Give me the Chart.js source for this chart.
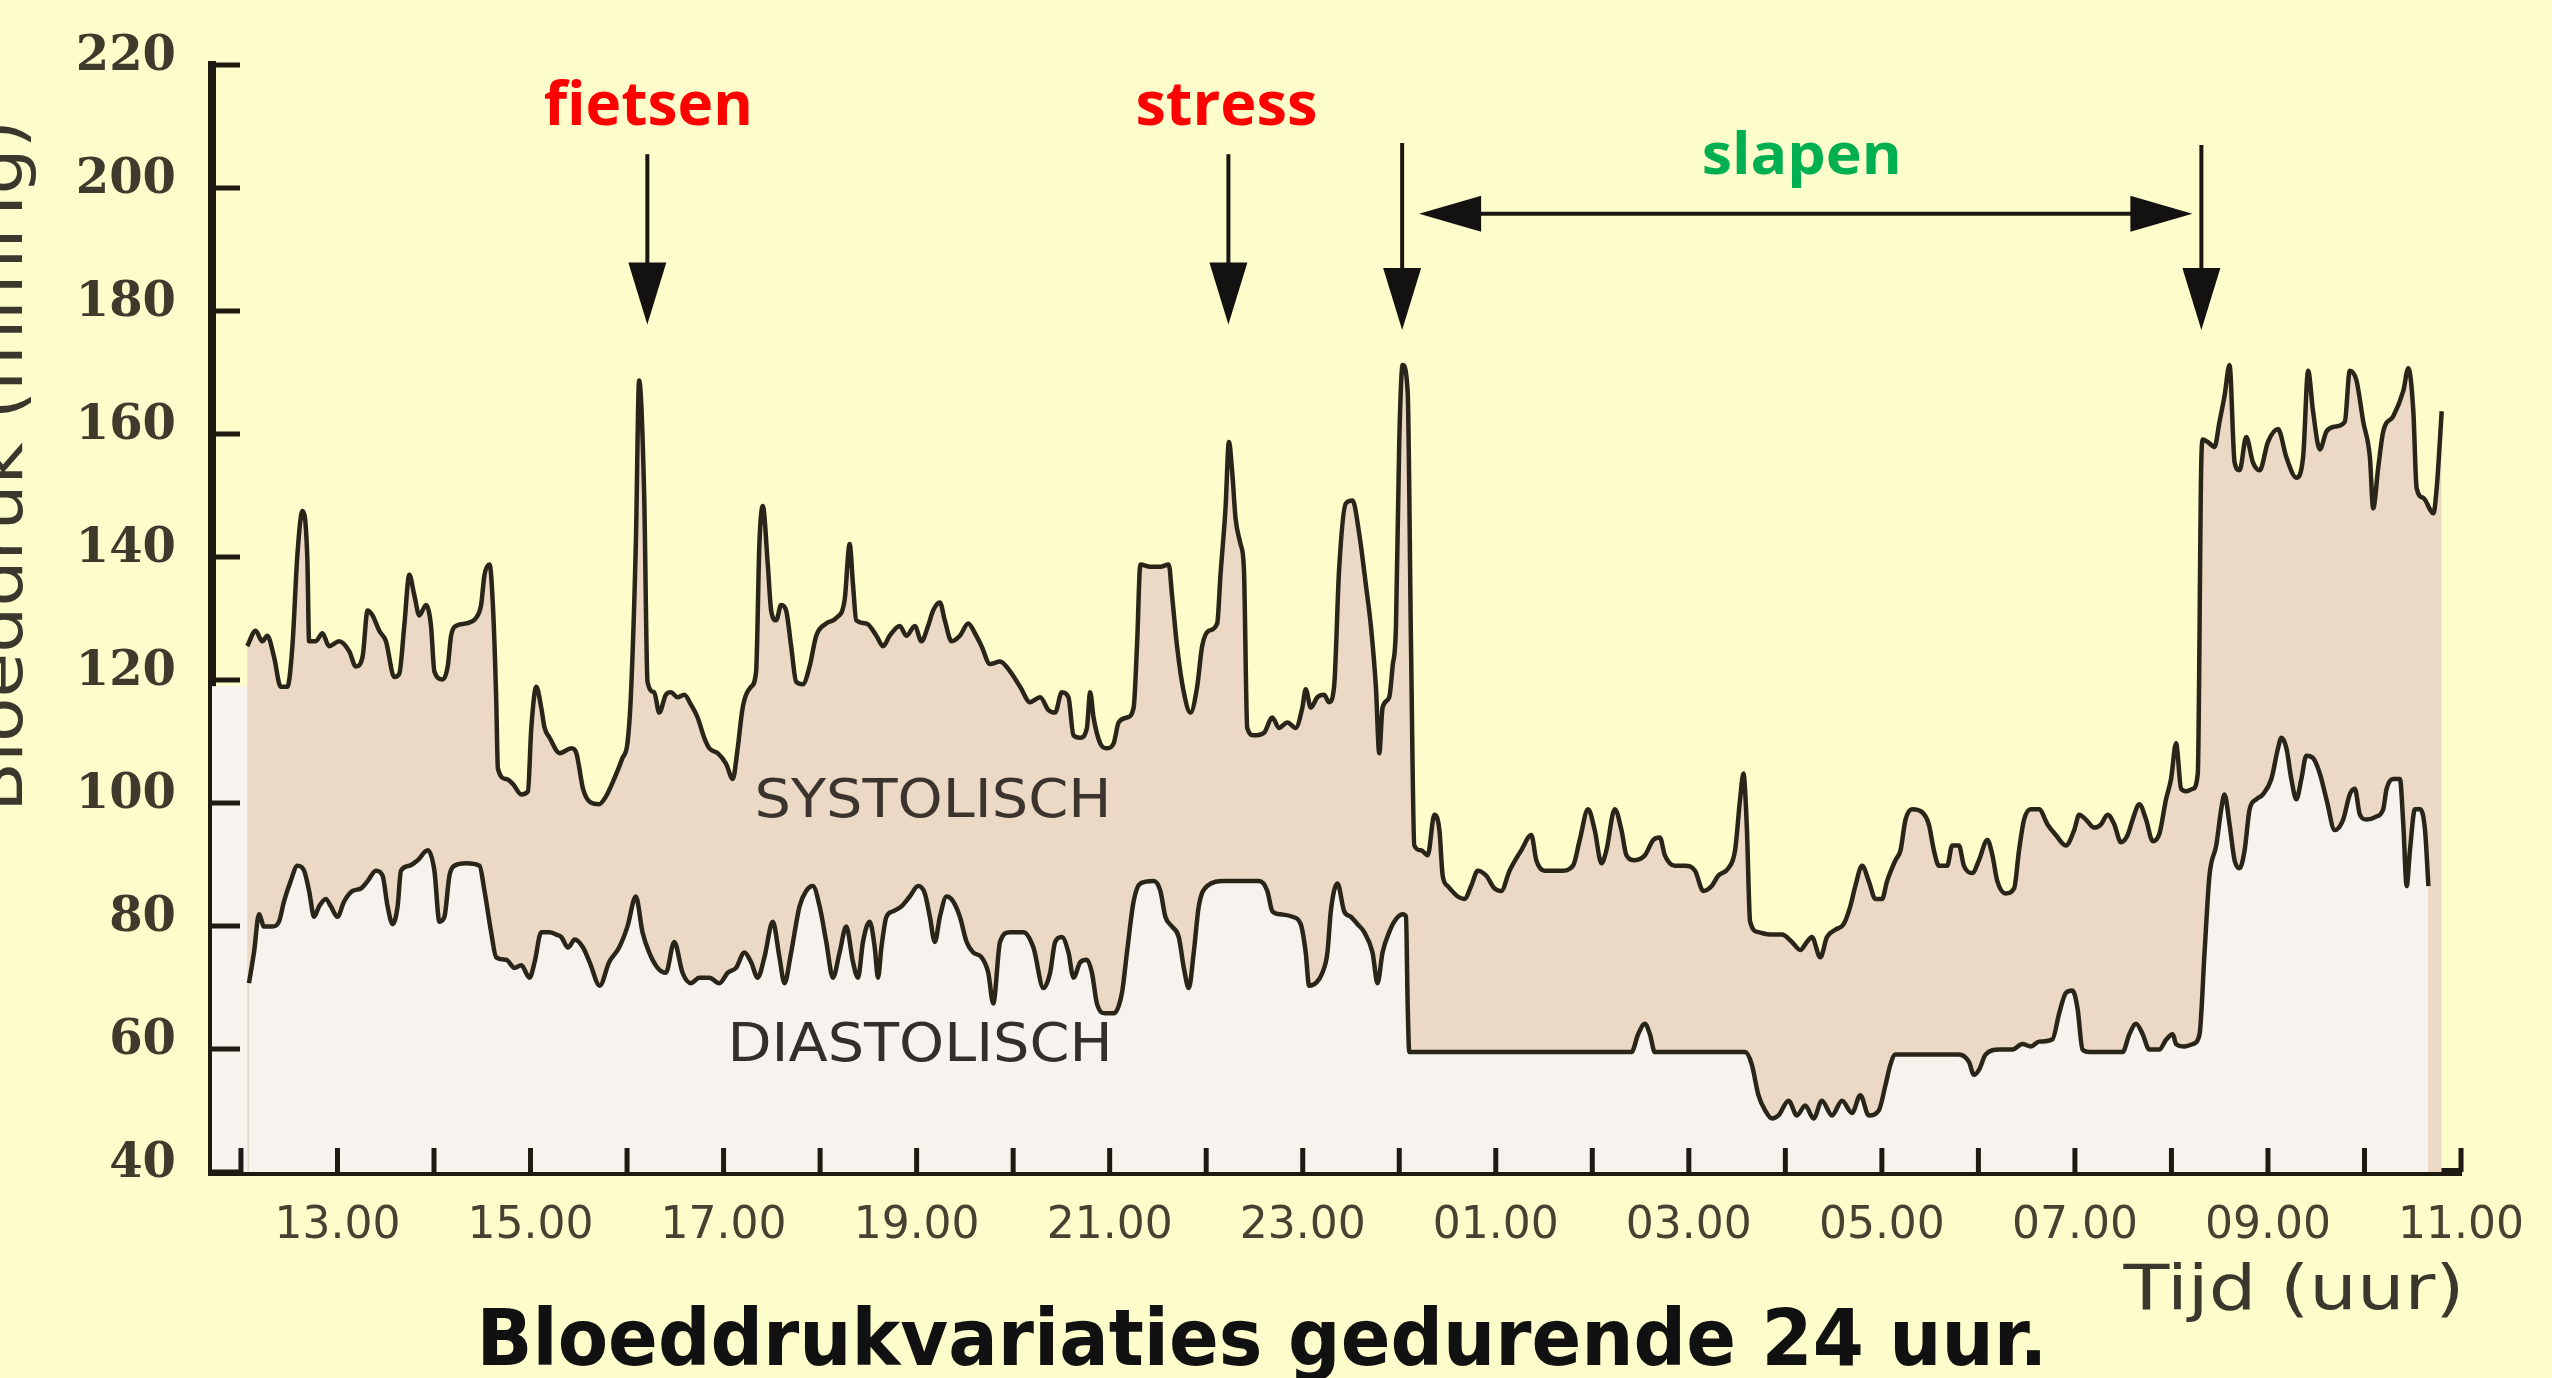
<!DOCTYPE html>
<html>
<head>
<meta charset="utf-8">
<script src="https://cdn.jsdelivr.net/npm/chart.js@4.4.1/dist/chart.umd.min.js"></script>
<style>
  html, body { margin: 0; padding: 0; background: #fdfccb; }
  #wrap { width: 2552px; height: 1378px; }
</style>
</head>
<body>
<div id="wrap"><canvas id="c" width="2552" height="1378"></canvas></div>
<script>
// ---- data (hours: 12 = 12.00, 24 = midnight, 35 = 11.00 next day) ----
const systolicTime = [
12.065,12.152,12.221,12.273,12.342,12.412,12.481,12.533,12.585,12.637,12.688,12.706,12.775,12.844,12.913,13.017,13.121,13.190,13.260,13.312,13.363,13.433,13.502,13.588,13.640,13.692,13.744,13.796,13.848,13.917,13.969,14.004,14.090,14.142,14.177,14.229,14.333,14.436,14.488,14.523,14.575,14.610,14.644,14.662,14.748,14.817,14.904,14.973,15.008,15.060,15.111,15.146,15.198,15.302,15.423,15.475,15.544,15.613,
15.710,15.779,15.866,15.952,16.004,16.039,16.091,16.125,16.177,16.212,16.281,16.333,16.402,16.454,16.523,16.593,16.662,16.731,16.800,16.852,16.939,17.025,17.095,17.146,17.198,17.285,17.337,17.371,17.406,17.458,17.493,17.545,17.596,17.648,17.700,17.752,17.821,17.891,17.960,18.064,18.168,18.254,18.306,18.341,18.375,18.479,18.583,18.652,18.721,18.825,18.894,18.981,19.050,19.119,19.171,19.241,19.292,19.362,19.448,19.535,19.604,19.673,
19.760,19.864,19.968,20.072,20.175,20.279,20.366,20.435,20.504,20.573,20.625,20.695,20.764,20.798,20.833,20.902,20.971,21.041,21.093,21.179,21.248,21.283,21.318,21.421,21.525,21.612,21.646,21.698,21.768,21.837,21.906,21.958,22.027,22.114,22.148,22.200,22.235,22.270,22.304,22.356,22.391,22.425,22.494,22.598,22.685,22.754,22.841,22.927,22.996,23.031,23.083,23.152,23.221,23.273,23.325,23.377,23.446,23.516,23.585,23.654,23.706,23.758,23.793,23.827,23.896,
23.931,23.966,24.000,24.035,24.087,24.122,24.156,24.225,24.295,24.364,24.416,24.450,24.502,24.606,24.675,24.745,24.814,24.900,24.987,25.056,25.143,25.264,25.368,25.420,25.506,25.679,25.800,25.870,25.956,26.025,26.095,26.146,26.233,26.302,26.354,26.441,26.545,26.631,26.700,26.752,26.856,26.960,27.064,27.150,27.237,27.306,27.410,27.479,27.531,27.566,27.600,27.635,27.721,27.843,
27.964,28.068,28.154,28.223,28.275,28.362,28.431,28.518,28.604,28.673,28.725,28.795,28.864,28.933,29.002,29.054,29.141,29.193,29.245,29.314,29.418,29.487,29.539,29.591,29.677,29.729,29.798,29.850,29.937,30.006,30.093,30.145,30.196,30.283,30.370,30.421,30.473,30.543,30.629,30.716,30.802,30.906,30.993,31.044,31.114,31.200,31.269,31.339,31.408,31.477,31.546,31.598,31.667,31.737,31.806,31.875,31.944,31.996,32.048,32.100,32.152,32.221,32.273,
32.308,32.325,32.377,32.446,32.498,32.550,32.602,32.654,32.706,32.775,32.844,32.914,33.000,33.104,33.191,33.294,33.364,33.416,33.467,33.537,33.606,33.692,33.796,33.848,33.917,33.987,34.056,34.090,34.142,34.194,34.298,34.402,34.454,34.506,34.540,34.610,34.714,34.748,34.800
];
const systolicBP = [
125.5,128.0,126.3,127.2,123.8,118.9,118.9,125.5,140.4,147.5,139.6,126.3,126.3,127.6,125.5,126.3,124.7,122.2,123.8,131.3,130.5,128.0,126.3,120.5,121.0,128.8,137.1,133.8,130.5,132.2,128.8,121.4,120.1,122.2,127.2,128.8,129.2,130.1,132.2,137.1,138.8,132.2,117.2,105.6,103.9,103.1,101.4,101.9,112.2,118.9,115.5,112.2,110.6,108.1,108.9,108.1,102.3,100.2,
99.8,101.0,103.9,107.3,109.7,117.2,142.1,168.7,150.4,119.7,118.0,114.7,117.6,118.0,117.2,117.6,116.0,113.9,110.6,108.9,108.1,106.4,103.9,108.9,115.5,118.9,121.4,142.1,148.3,138.8,131.3,129.7,132.2,131.3,125.5,119.7,119.3,122.2,127.2,129.2,130.1,133.0,142.1,135.5,129.7,129.2,127.2,125.5,127.2,128.8,127.2,128.8,126.3,128.8,131.3,132.6,129.7,126.3,127.2,129.2,127.6,125.5,
122.6,123.0,121.4,118.9,116.4,117.2,115.1,114.7,118.0,117.2,111.0,110.6,112.2,118.0,113.9,109.7,108.9,109.7,113.1,113.9,115.5,125.5,138.8,138.4,138.4,138.8,133.8,125.5,118.0,114.7,118.9,125.5,128.0,129.2,137.1,147.9,158.7,153.7,146.3,142.1,138.0,112.2,111.0,111.4,113.9,112.2,113.1,112.2,115.5,118.5,115.5,117.2,117.6,116.4,118.9,138.0,148.7,149.2,143.8,135.5,128.8,118.9,108.1,115.5,117.2,
122.2,128.8,158.7,171.2,167.0,125.5,93.1,92.3,91.5,98.1,95.6,88.2,86.5,84.8,84.4,86.5,89.0,88.2,86.1,85.7,89.0,92.3,94.8,90.7,89.0,89.0,89.8,94.0,99.0,95.6,90.2,92.3,99.0,95.6,91.5,90.7,91.5,94.0,94.4,91.5,89.8,89.8,89.0,85.7,86.5,88.2,89.4,92.3,100.6,104.8,96.5,80.7,79.0,78.6,
78.6,77.4,76.1,77.4,78.2,74.9,78.2,79.4,80.3,83.2,86.5,89.8,87.3,84.4,84.4,87.3,90.7,92.3,97.3,99.0,98.5,96.5,92.3,89.8,89.8,93.1,93.1,89.8,88.6,90.7,94.0,91.5,87.3,85.3,86.1,92.3,97.3,99.0,99.0,96.5,94.8,93.1,95.6,98.1,97.3,96.0,96.5,98.1,96.5,93.6,94.8,97.3,99.8,97.3,93.8,95.0,100.6,103.9,109.7,102.3,101.9,102.3,104.8,
154.5,159.1,158.7,157.9,162.0,166.2,171.2,155.4,154.1,159.5,155.4,154.1,158.7,160.8,156.2,152.9,156.2,170.3,163.7,157.5,160.4,161.2,162.0,170.3,168.7,162.0,156.2,147.9,154.5,160.4,162.9,167.0,170.7,163.7,151.2,149.6,147.1,151.2,163.7
];
const diastolicTime = [
12.083,12.135,12.187,12.239,12.325,12.394,12.446,12.515,12.585,12.654,12.706,12.758,12.810,12.879,12.931,13.000,13.069,13.156,13.242,13.312,13.398,13.467,13.519,13.571,13.623,13.658,13.744,13.831,13.935,14.004,14.056,14.108,14.160,14.212,14.333,14.471,14.523,14.592,14.644,14.748,14.835,14.904,14.990,15.042,15.111,15.198,15.267,15.319,15.388,15.458,15.544,15.613,15.717,
15.814,15.918,16.004,16.091,16.160,16.229,16.316,16.402,16.489,16.575,16.662,16.748,16.852,16.956,17.043,17.129,17.216,17.285,17.354,17.423,17.510,17.579,17.631,17.700,17.787,17.856,17.925,17.995,18.064,18.133,18.202,18.271,18.341,18.393,18.444,18.514,18.566,18.600,18.635,18.687,18.756,18.843,18.929,19.016,19.085,19.137,19.189,19.241,19.310,19.379,19.448,19.518,19.587,19.673,19.742,19.794,
19.864,19.968,20.106,20.210,20.314,20.383,20.435,20.504,20.573,20.625,20.695,20.764,20.816,20.868,20.954,21.041,21.127,21.179,21.248,21.318,21.456,21.525,21.577,21.646,21.716,21.768,21.820,21.871,21.923,22.010,22.183,22.391,22.547,22.633,22.685,22.771,22.893,22.979,23.031,23.066,23.135,23.204,23.256,23.291,23.360,23.429,23.498,23.568,23.637,23.723,23.775,23.827,23.896,
23.948,24.035,24.070,24.087,24.104,26.406,26.475,26.545,26.597,26.648,27.583,27.652,27.721,27.791,27.860,
27.929,28.033,28.120,28.206,28.293,28.379,28.483,28.587,28.691,28.777,28.864,28.968,29.037,29.089,29.141,29.798,29.902,29.954,30.006,30.075,30.214,30.352,30.456,30.543,30.629,30.768,30.837,30.906,30.975,31.027,31.079,31.148,31.494,31.564,31.633,31.702,31.771,31.875,31.944,32.014,
32.048,32.135,32.221,32.291,32.343,32.394,32.464,32.516,32.550,32.602,32.654,32.706,32.758,32.810,32.879,32.948,33.035,33.104,33.139,33.191,33.242,33.294,33.346,33.398,33.467,33.537,33.606,33.692,33.779,33.848,33.900,33.952,34.021,34.108,34.194,34.229,34.298,34.367,34.402,34.437,34.471,34.523,34.575,34.627,34.662
];
const diastolicBP = [
70.7,75.7,81.9,79.9,79.9,80.7,84.0,87.3,89.8,89.0,85.7,81.5,83.2,84.4,83.2,81.5,84.0,85.7,86.1,87.3,89.0,88.2,83.2,80.3,83.2,89.0,89.8,90.7,92.3,89.0,80.7,81.5,88.2,89.8,90.2,89.8,85.7,79.0,74.9,74.5,73.2,73.6,71.6,74.1,79.0,79.0,78.6,78.2,76.5,77.8,76.5,74.1,70.3,
74.1,76.5,79.9,84.8,79.0,75.7,73.2,72.4,77.4,72.4,70.7,71.6,71.6,70.7,72.4,73.2,75.7,74.1,71.6,74.9,80.7,74.9,70.7,75.7,83.2,85.7,86.5,83.2,77.4,71.6,75.7,79.9,74.1,71.6,77.4,80.7,76.5,71.6,76.5,81.5,82.4,83.2,84.8,86.5,85.3,81.5,77.4,81.5,84.8,84.0,81.5,77.4,75.7,74.9,72.4,67.4,
77.4,79.0,79.0,76.5,69.9,72.4,77.4,78.2,75.7,71.6,74.1,74.5,72.4,67.4,65.8,65.8,69.1,75.7,84.0,86.9,87.3,85.7,81.5,79.9,78.2,73.2,69.9,75.7,83.2,86.5,87.3,87.3,87.3,85.7,82.4,81.9,81.5,80.3,75.7,70.3,70.7,72.4,75.7,82.4,86.9,82.4,81.5,80.3,79.0,75.7,70.7,75.7,79.0,
80.7,81.9,81.5,67.4,59.5,59.5,62.4,64.1,62.4,59.5,59.5,57.5,52.5,50.0,48.7,
49.2,51.6,49.2,50.8,48.7,51.6,49.2,51.6,49.6,52.5,49.2,50.0,54.1,57.5,59.1,59.1,57.9,55.8,56.6,59.1,59.9,59.9,60.8,60.4,61.2,61.6,65.8,69.1,69.5,66.6,59.9,59.5,59.5,62.4,64.1,62.4,59.9,59.9,61.5,62.4,
60.8,60.4,60.8,62.4,75.7,88.2,93.1,99.0,101.4,96.5,90.7,89.4,92.3,99.0,100.6,101.4,103.9,108.9,110.6,108.9,103.9,100.6,103.9,107.7,107.3,104.8,100.6,95.6,97.3,101.4,102.3,98.1,97.3,97.7,99.0,102.3,103.9,103.9,96.5,86.5,92.3,99.0,99.0,95.6,86.5
];
// axis ranges / ticks
const hourMin = 11.7, hourMax = 35;
const bpMin = 40, bpMax = 220, bpStep = 20;
// event annotations
const eventLabels = ['fietsen', 'stress'];
const eventTimes = [16.21, 22.23];
const sleepLabel = 'slapen';
const sleepStart = 24.03, sleepEnd = 32.31;

const toXY = (xs, ys) => xs.map((x, i) => ({ x: x, y: ys[i] }));

const decor = {
  id: 'decor',
  beforeDraw(chart) {
    const c = chart.ctx;
    c.save();
    c.fillStyle = '#fdfccb';
    c.fillRect(0, 0, chart.width, chart.height);
    c.restore();
  },
  beforeDatasetsDraw(chart) {
    const c = chart.ctx, xs = chart.scales.x, ys = chart.scales.y;
    c.save();
    c.fillStyle = '#f6f3ee';
    const x0 = chart.chartArea.left, x1 = xs.getPixelForValue(systolicTime[0]) + 2;
    const y0 = ys.getPixelForValue(119), y1 = chart.chartArea.bottom;
    c.fillRect(x0, y0, x1 - x0, y1 - y0);
    c.restore();
  },
  afterDraw(chart) {
    const c = chart.ctx, xs = chart.scales.x, ys = chart.scales.y, a = chart.chartArea;
    const X = v => xs.getPixelForValue(v), Y = v => ys.getPixelForValue(v);
    c.save();
    // inward tick marks
    c.strokeStyle = '#1e1a12';
    c.lineWidth = 5;
    ys.ticks.forEach(t => {
      const y = Y(t.value);
      c.beginPath(); c.moveTo(a.left, y); c.lineTo(a.left + 28, y); c.stroke();
    });
    xs.ticks.forEach(t => {
      const x = X(t.value);
      c.beginPath(); c.moveTo(x, a.bottom); c.lineTo(x, a.bottom - 24); c.stroke();
    });

    // arrows
    c.fillStyle = '#141210';
    c.strokeStyle = '#1a1712';
    c.lineWidth = 4;
    const headL = 62, headW = 19;
    function down(x, yTop, yTip) {
      c.beginPath(); c.moveTo(x, yTop); c.lineTo(x, yTip - headL + 6); c.stroke();
      c.beginPath(); c.moveTo(x - headW, yTip - headL); c.lineTo(x + headW, yTip - headL); c.lineTo(x, yTip); c.closePath(); c.fill();
    }
    eventTimes.forEach(t => down(X(t), Y(205.5), Y(177.8)));
    down(X(sleepStart), Y(207.3), Y(176.9));
    down(X(sleepEnd), Y(207.0), Y(176.9));
    const hy = Y(195.8), hx1 = X(sleepStart) + 17, hx2 = X(sleepEnd) - 9;
    c.beginPath(); c.moveTo(hx1 + headL - 6, hy); c.lineTo(hx2 - headL + 6, hy); c.stroke();
    c.beginPath(); c.moveTo(hx1, hy); c.lineTo(hx1 + headL, hy - 18); c.lineTo(hx1 + headL, hy + 18); c.closePath(); c.fill();
    c.beginPath(); c.moveTo(hx2, hy); c.lineTo(hx2 - headL, hy - 18); c.lineTo(hx2 - headL, hy + 18); c.closePath(); c.fill();

    function fitText(text, font, color, cx, by, w) {
      c.save();
      c.font = font; c.fillStyle = color; c.textAlign = 'center'; c.textBaseline = 'alphabetic';
      const m = c.measureText(text).width;
      c.translate(cx, by); c.scale(w / m, 1);
      c.fillText(text, 0, 0);
      c.restore();
    }
    fitText(eventLabels[0], 'bold 60px "Open Sans"', '#fe0000', X(eventTimes[0]) + 1, 125, 209);
    fitText(eventLabels[1], 'bold 60px "Open Sans"', '#fe0000', X(eventTimes[1]) - 2, 125, 182);
    fitText(sleepLabel, 'bold 58px "Open Sans"', '#00b050', (X(sleepStart) + X(sleepEnd)) / 2, 174, 200);
    fitText('SYSTOLISCH', '54px "DejaVu Sans"', '#3b332d', 933, 817, 357);
    fitText('DIASTOLISCH', '54px "DejaVu Sans"', '#332e2a', 920, 1061, 385);
    fitText('Tijd (uur)', '62px "DejaVu Sans"', '#3a382c', 2294, 1309, 341);
    c.save();
    c.translate(22, 466); c.rotate(-Math.PI / 2);
    fitText('Bloeddruk (mmHg)', '66px "DejaVu Sans"', '#3a382c', 0, 0, 692);
    c.restore();
    fitText('Bloeddrukvariaties gedurende 24 uur.', 'bold 79px "DejaVu Sans"', '#111111', 1262, 1365, 1571);
    c.restore();
  }
};

new Chart(document.getElementById('c'), {
  type: 'line',
  data: {
    datasets: [
      { label: 'Diastolisch', data: toXY(diastolicTime, diastolicBP), borderColor: '#2a2519', borderWidth: 4.5,
        pointRadius: 0, fill: 'start', backgroundColor: '#f6f3ee', cubicInterpolationMode: 'monotone' },
      { label: 'Systolisch', data: toXY(systolicTime, systolicBP), borderColor: '#2a2519', borderWidth: 4.5,
        pointRadius: 0, fill: 'start', backgroundColor: '#ebd9c5', cubicInterpolationMode: 'monotone' }
    ]
  },
  options: {
    responsive: false,
    animation: false,
    layout: { padding: { left: 62, top: 65, right: 90, bottom: 106 } },
    plugins: { legend: { display: false }, tooltip: { enabled: false }, title: { display: false } },
    scales: {
      x: {
        type: 'linear', min: hourMin, max: hourMax,
        grid: { display: false, drawTicks: false },
        border: { display: true, color: '#1e1a12', width: 8 },
        ticks: {
          stepSize: 1, includeBounds: false, autoSkip: false, maxRotation: 0, minRotation: 0, padding: 28,
          color: '#464232', font: { family: 'DejaVu Sans', size: 44 },
          callback: (v) => {
            const h = Math.round(v);
            if (Math.abs(v - h) > 1e-6 || h % 2 === 0) return '';
            const hh = h % 24;
            return (hh < 10 ? '0' : '') + hh + '.00';
          }
        },
        afterFit: (s) => { s.height = 100; }
      },
      y: {
        min: bpMin, max: bpMax,
        grid: { display: false, drawTicks: false },
        border: { display: true, color: '#1e1a12', width: 8 },
        ticks: { stepSize: bpStep, padding: 36, labelOffset: -7, color: '#3e3a2c',
          font: { family: 'DejaVu Serif', size: 48, weight: 'bold' } },
        afterFit: (s) => { s.width = 150; }
      }
    }
  },
  plugins: [decor]
});
</script>
</body>
</html>
